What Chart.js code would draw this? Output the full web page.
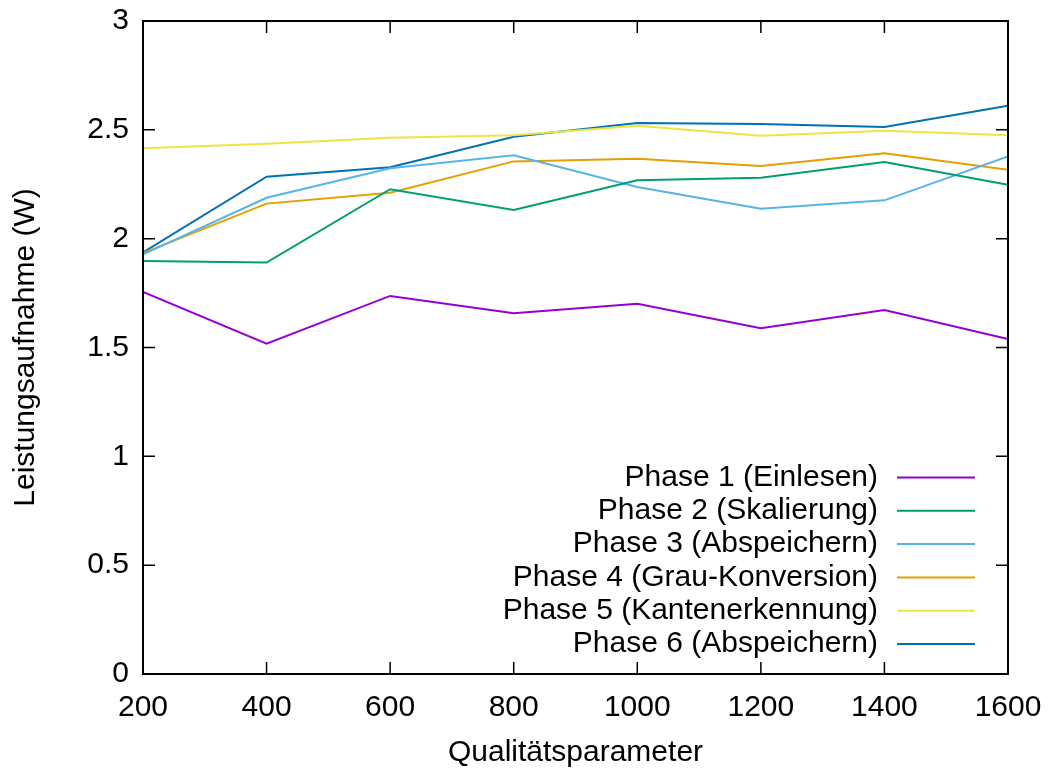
<!DOCTYPE html>
<html>
<head>
<meta charset="utf-8">
<script src="https://cdn.jsdelivr.net/npm/chart.js@4"></script>
<style>
  html, body { margin: 0; padding: 0; background: #fff; }
  #wrap { width: 1049px; height: 771px; }
</style>
</head>
<body>
<div id="wrap"><canvas id="powerChart"></canvas></div>
<script>
// Qualitätsparameter vs. Leistungsaufnahme
const qualitaet = [200, 400, 600, 800, 1000, 1200, 1400, 1600];
const phase1 = [1.755, 1.518, 1.737, 1.657, 1.701, 1.588, 1.672, 1.539];
const phase2 = [1.897, 1.890, 2.227, 2.132, 2.268, 2.280, 2.352, 2.248];
const phase3 = [1.928, 2.188, 2.323, 2.383, 2.237, 2.138, 2.176, 2.378];
const phase4 = [1.934, 2.161, 2.211, 2.355, 2.367, 2.334, 2.392, 2.317];
const phase5 = [2.415, 2.436, 2.464, 2.475, 2.519, 2.473, 2.496, 2.475];
const phase6 = [1.937, 2.285, 2.328, 2.468, 2.531, 2.527, 2.513, 2.611];

const labels = [
    'Phase 1 (Einlesen)',
    'Phase 2 (Skalierung)',
    'Phase 3 (Abspeichern)',
    'Phase 4 (Grau-Konversion)',
    'Phase 5 (Kantenerkennung)',
    'Phase 6 (Abspeichern)'
];
const colors = ['#9400d3', '#009e73', '#56b4e9', '#e69f00', '#f0e442', '#0072b2'];
const series = [phase1, phase2, phase3, phase4, phase5, phase6];

const FONT = '"Liberation Sans", Arial, sans-serif';
Chart.defaults.font.family = FONT;
Chart.defaults.font.size = 30;
Chart.defaults.color = '#000';

// gnuplot-style frame with inward ticks on all four sides
const frameTicks = {
    id: 'frameTicks',
    afterDatasetsDraw(chart) {
        const { ctx, chartArea: a, scales: { x, y } } = chart;
        ctx.save();
        ctx.strokeStyle = '#000';
        ctx.lineWidth = 1.5;
        ctx.beginPath();
        x.ticks.forEach(t => {
            const px = x.getPixelForValue(t.value);
            ctx.moveTo(px, a.bottom); ctx.lineTo(px, a.bottom - 12);
            ctx.moveTo(px, a.top); ctx.lineTo(px, a.top + 12);
        });
        y.ticks.forEach(t => {
            const py = y.getPixelForValue(t.value);
            ctx.moveTo(a.left, py); ctx.lineTo(a.left + 12, py);
            ctx.moveTo(a.right, py); ctx.lineTo(a.right - 12, py);
        });
        ctx.stroke();
        ctx.lineWidth = 2;
        ctx.strokeRect(a.left, a.top, a.right - a.left, a.bottom - a.top);
        ctx.restore();
    }
};

// legend inside the plot, text right-aligned before the line sample
const insideLegend = {
    id: 'insideLegend',
    afterDraw(chart) {
        const { ctx, chartArea: a } = chart;
        const sets = chart.data.datasets;
        ctx.save();
        ctx.font = '30px ' + FONT;
        ctx.textAlign = 'right';
        ctx.textBaseline = 'middle';
        sets.forEach((ds, i) => {
            const yy = a.bottom - 30 - (sets.length - 1 - i) * 33.3;
            ctx.fillStyle = '#000';
            ctx.fillText(ds.label, a.right - 130, yy);
            ctx.strokeStyle = ds.borderColor;
            ctx.lineWidth = 2;
            ctx.beginPath();
            ctx.moveTo(a.right - 111, yy);
            ctx.lineTo(a.right - 33, yy);
            ctx.stroke();
        });
        ctx.restore();
    }
};

const ctx = document.getElementById('powerChart').getContext('2d');
new Chart(ctx, {
    type: 'line',
    data: {
        datasets: series.map((vals, i) => ({
            label: labels[i],
            data: vals.map((v, j) => ({ x: qualitaet[j], y: v })),
            borderColor: colors[i],
            backgroundColor: colors[i],
            borderWidth: 2,
            pointRadius: 0,
            tension: 0,
            fill: false
        }))
    },
    options: {
        responsive: true,
        maintainAspectRatio: false,
        animation: false,
        layout: {
            padding: { top: 21, right: 41, left: 8, bottom: 0 }
        },
        plugins: {
            legend: { display: false },
            tooltip: { enabled: false }
        },
        scales: {
            x: {
                type: 'linear',
                min: 200,
                max: 1600,
                ticks: {
                    stepSize: 200,
                    padding: 16,
                    maxRotation: 0,
                    callback: v => String(v)
                },
                grid: { display: false, drawTicks: false },
                border: { display: false },
                title: {
                    display: true,
                    text: 'Qualitätsparameter',
                    padding: { top: 5, bottom: 0 }
                },
                afterFit(scale) {
                    scale.height = 97;
                    scale.paddingLeft = 0;
                    scale.paddingRight = 0;
                }
            },
            y: {
                min: 0,
                max: 3,
                ticks: {
                    stepSize: 0.5,
                    padding: 14,
                    callback: v => String(v)
                },
                grid: { display: false, drawTicks: false },
                border: { display: false },
                title: {
                    display: true,
                    text: 'Leistungsaufnahme (W)',
                    padding: { top: 0, bottom: 0 }
                },
                afterFit(scale) {
                    scale.width = 135;
                    scale.paddingTop = 0;
                    scale.paddingBottom = 0;
                }
            }
        }
    },
    plugins: [frameTicks, insideLegend]
});
</script>
</body>
</html>
